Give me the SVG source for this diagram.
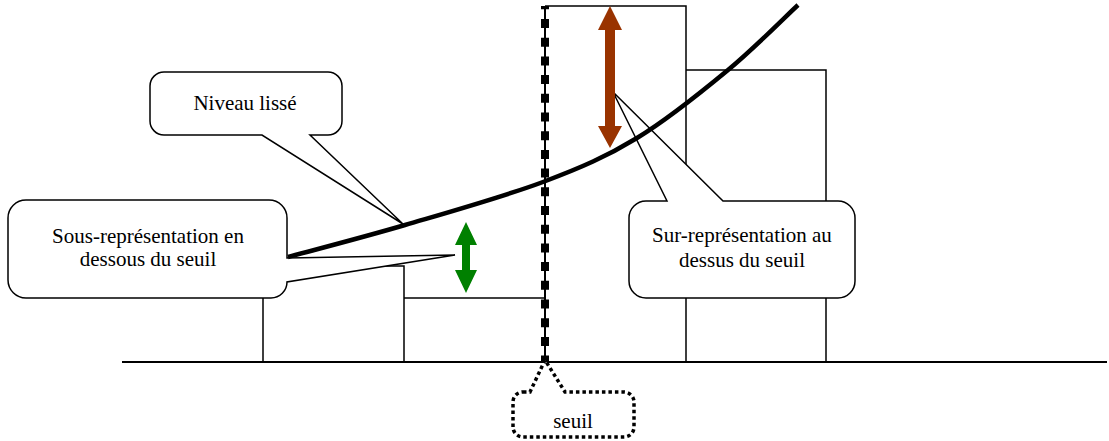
<svg xmlns="http://www.w3.org/2000/svg" width="1109" height="441" viewBox="0 0 1109 441">
<style>
.bar{fill:none;stroke:#000;stroke-width:1.5}
.callout{fill:#fff;stroke:#000;stroke-width:1.5;stroke-linejoin:miter}
.dotted{fill:#fff;stroke:#000;stroke-width:3.5;stroke-dasharray:3.5 3}
.lbl{font-family:"Liberation Serif","Times New Roman",serif;font-size:21px;fill:#000;text-anchor:middle}
</style>
<rect width="1109" height="441" fill="#fff"/>
<g id="bars">
<path class="bar" d="M263,362 V266 H404 V362"/>
<path class="bar" d="M404,298 H545"/>
<path class="bar" d="M545,6 H686 V362"/>
<path class="bar" d="M686,70 H826 V362"/>
</g>
<g id="axis">
<line x1="122" y1="362" x2="1107" y2="362" stroke="#000" stroke-width="2"/>
</g>
<g id="seuil-line">
<line x1="545" y1="6" x2="545" y2="362" stroke="#000" stroke-width="2"/>
<line x1="545" y1="6" x2="545" y2="362" stroke="#000" stroke-width="8" stroke-dasharray="9 9.7" stroke-dashoffset="5.7"/>
</g>
<g id="callout-niveau">
<path class="callout" d="M164,72 H328 A14,14 0 0 1 342,86 V121 A14,14 0 0 1 328,135 H310 L403,224 L262,135 H164 A14,14 0 0 1 150,121 V86 A14,14 0 0 1 164,72 Z"/>
<text class="lbl" x="245" y="110">Niveau lissé</text>
</g>
<g id="callout-sous">
<path class="callout" d="M26,200 H269 A18,18 0 0 1 287,218 V258 L455,255 L287,282 A16,16 0 0 1 271,298 H26 A18,18 0 0 1 8,280 V218 A18,18 0 0 1 26,200 Z"/>
<text class="lbl" x="148" y="243">Sous-représentation en</text>
<text class="lbl" x="148" y="266">dessous du seuil</text>
</g>
<g id="callout-sur">
<path class="callout" d="M646,201 H667 L613,92 L723,201 H838 A17,17 0 0 1 855,218 V281 A17,17 0 0 1 838,298 H646 A17,17 0 0 1 629,281 V218 A17,17 0 0 1 646,201 Z"/>
<text class="lbl" x="742" y="242">Sur-représentation au</text>
<text class="lbl" x="742" y="267">dessus du seuil</text>
</g>
<g id="callout-seuil">
<path class="dotted" d="M523,392 H530 L545,360 L565,392 H624 A10,10 0 0 1 634,402 V427 A10,10 0 0 1 624,437 H523 A10,10 0 0 1 513,427 V402 A10,10 0 0 1 523,392 Z"/>
<text class="lbl" x="573" y="428">seuil</text>
</g>
<g id="arrows">
<path fill="#008000" d="M466,222 L477,245 H470 V270 H477 L466,293 L455,270 H462 V245 H455 Z"/>
<path fill="#993300" d="M610,6 L622,30 H615 V126 H622 L610,148 L598,126 H605 V30 H598 Z"/>
</g>
<g id="curve">
<path d="M288,257 C307.5,251.7 362.5,237.5 405,225 C447.5,212.5 504.3,196.5 543,182 C581.7,167.5 606.2,156.7 637,138 C667.8,119.3 701.2,92.2 728,70 C754.8,47.8 786.3,15.8 798,5" fill="none" stroke="#000" stroke-width="4.5"/>
</g>
</svg>
